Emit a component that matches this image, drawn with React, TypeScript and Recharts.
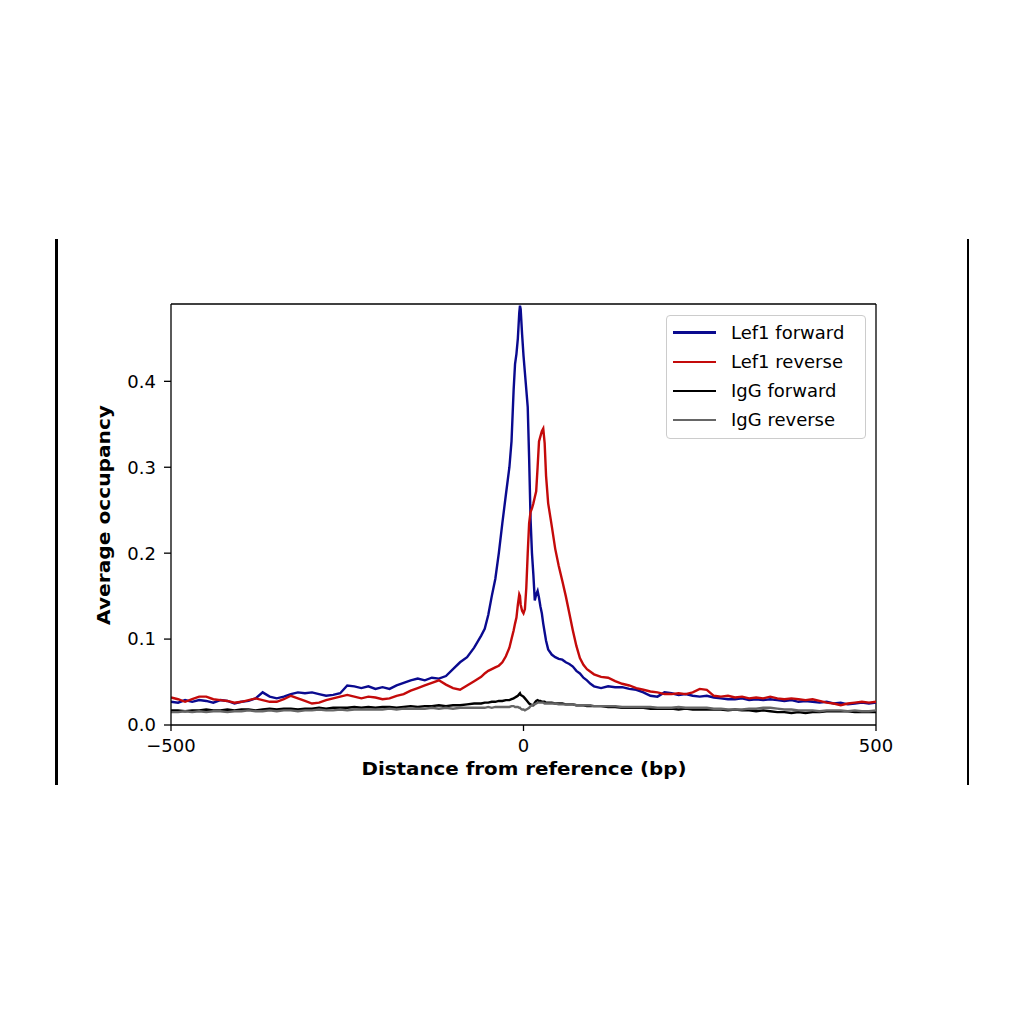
import React from 'react';
import { LineChart, Line, XAxis, YAxis, Legend, ReferenceLine } from 'recharts';

const positions = [
  -500, -490, -480, -470, -460, -450, -440, -430, -420, -410, -400, -390, -380, -370, -360,
  -350, -340, -330, -320, -310, -300, -290, -280, -270, -260, -250, -240, -230, -220, -210,
  -200, -190, -180, -170, -160, -150, -140, -130, -120, -110, -100, -90, -80, -70, -60,
  -55, -50, -45, -40, -35, -30, -25, -20, -17, -14, -12, -10, -8, -6, -5, -4, -2, 0,
  2, 4, 6, 8, 10, 12, 14, 16, 18, 20, 22, 24, 26, 28, 30, 32, 35, 40, 45, 50, 55, 60,
  65, 70, 75, 80, 85, 90, 95, 100,
  110, 120, 130, 140, 150, 160, 170, 180, 190, 200, 210, 220, 230, 240, 250, 260, 270, 280,
  290, 300, 310, 320, 330, 340, 350, 360, 370, 380, 390, 400, 410, 420, 430, 440, 450, 460,
  470, 480, 490, 500,
];

const lef1Forward = [
  0.027, 0.026, 0.029, 0.027, 0.029, 0.028, 0.026, 0.029, 0.028, 0.025, 0.027, 0.028, 0.031, 0.038, 0.033,
  0.031, 0.033, 0.036, 0.038, 0.037, 0.038, 0.036, 0.034, 0.035, 0.037, 0.046, 0.045, 0.043, 0.045, 0.042,
  0.044, 0.042, 0.046, 0.049, 0.052, 0.054, 0.052, 0.055, 0.054, 0.057, 0.065, 0.073, 0.079, 0.09, 0.104,
  0.112, 0.128, 0.15, 0.17, 0.2, 0.235, 0.268, 0.3, 0.33, 0.39, 0.42, 0.432, 0.45, 0.48, 0.488, 0.484, 0.455, 0.43,
  0.41, 0.39, 0.37, 0.31, 0.24, 0.2, 0.175, 0.145, 0.152, 0.156, 0.148, 0.138, 0.13, 0.118, 0.108, 0.098, 0.088, 0.082, 0.079, 0.077, 0.076, 0.073,
  0.071, 0.068, 0.063, 0.06, 0.055, 0.052, 0.048, 0.045,
  0.043, 0.045, 0.044, 0.044, 0.042, 0.041, 0.038, 0.034, 0.033, 0.038, 0.037, 0.035, 0.036, 0.034, 0.033, 0.034, 0.032, 0.031,
  0.03, 0.03, 0.031, 0.029, 0.03, 0.029, 0.03, 0.029, 0.028, 0.029, 0.027, 0.028, 0.027, 0.026, 0.027, 0.025, 0.026, 0.024,
  0.025, 0.026, 0.025, 0.026,
];

const lef1Reverse = [
  0.032, 0.03, 0.027, 0.03, 0.033, 0.033, 0.03, 0.029, 0.028, 0.026, 0.027, 0.029, 0.031, 0.029, 0.027,
  0.027, 0.03, 0.034, 0.031, 0.028, 0.025, 0.026, 0.029, 0.031, 0.033, 0.035, 0.033, 0.031, 0.033, 0.032,
  0.03, 0.031, 0.034, 0.036, 0.04, 0.043, 0.046, 0.049, 0.052, 0.047, 0.043, 0.041, 0.046, 0.051, 0.056,
  0.06, 0.063, 0.065, 0.067, 0.069, 0.073, 0.08, 0.09, 0.1, 0.11, 0.118, 0.125, 0.14, 0.152, 0.15, 0.14, 0.133, 0.13,
  0.135, 0.16, 0.2, 0.235, 0.248, 0.252, 0.258, 0.265, 0.272, 0.3, 0.33, 0.336, 0.342, 0.345, 0.328, 0.29, 0.258, 0.232, 0.205, 0.185, 0.168, 0.15,
  0.13, 0.11, 0.092, 0.078, 0.07, 0.065, 0.062, 0.059,
  0.056, 0.055, 0.051, 0.048, 0.046, 0.043, 0.041, 0.039, 0.038, 0.036, 0.036, 0.037, 0.036, 0.038, 0.042, 0.041, 0.034, 0.033,
  0.034, 0.032, 0.033, 0.031, 0.032, 0.031, 0.033, 0.031, 0.03, 0.031, 0.03, 0.029, 0.03, 0.028, 0.026, 0.025, 0.023, 0.025,
  0.026, 0.027, 0.026, 0.027,
];

const igGForward = [
  0.017, 0.017, 0.016, 0.017, 0.017, 0.018, 0.017, 0.017, 0.018, 0.017, 0.018, 0.018, 0.017, 0.018, 0.019,
  0.018, 0.019, 0.019, 0.018, 0.019, 0.019, 0.02, 0.019, 0.02, 0.02, 0.02, 0.021, 0.02, 0.021, 0.02,
  0.021, 0.021, 0.02, 0.021, 0.022, 0.021, 0.022, 0.022, 0.023, 0.022, 0.023, 0.023, 0.024, 0.025, 0.025,
  0.026, 0.026, 0.027, 0.027, 0.028, 0.028, 0.029, 0.029, 0.03, 0.031, 0.032, 0.033, 0.034, 0.036, 0.037, 0.035, 0.034, 0.033,
  0.031, 0.029, 0.027, 0.025, 0.024, 0.023, 0.023, 0.026, 0.028, 0.029, 0.028, 0.028, 0.027, 0.027, 0.027, 0.026, 0.026, 0.026, 0.025, 0.025, 0.025, 0.024,
  0.024, 0.024, 0.023, 0.023, 0.023, 0.022, 0.022, 0.022,
  0.022, 0.021, 0.021, 0.02, 0.02, 0.02, 0.02, 0.019, 0.019, 0.019, 0.019, 0.018, 0.019, 0.018, 0.018, 0.018, 0.018, 0.018,
  0.017, 0.018, 0.017, 0.017, 0.016, 0.017, 0.016, 0.015, 0.015, 0.014, 0.015, 0.014, 0.015, 0.015, 0.016, 0.016, 0.016, 0.016,
  0.015, 0.015, 0.015, 0.015,
];

const igGReverse = [
  0.015, 0.015, 0.016, 0.015, 0.016, 0.015, 0.016, 0.016, 0.015, 0.016, 0.016, 0.017, 0.016, 0.016, 0.017,
  0.016, 0.017, 0.017, 0.016, 0.017, 0.017, 0.018, 0.017, 0.017, 0.018, 0.017, 0.018, 0.018, 0.018, 0.018,
  0.018, 0.019, 0.018, 0.019, 0.019, 0.019, 0.019, 0.02, 0.019, 0.02, 0.019, 0.02, 0.02, 0.02, 0.02,
  0.02, 0.021, 0.02, 0.021, 0.021, 0.021, 0.021, 0.021, 0.022, 0.022, 0.021, 0.021, 0.021, 0.02, 0.02, 0.019, 0.018, 0.018,
  0.017, 0.018, 0.019, 0.02, 0.022, 0.023, 0.024, 0.024, 0.025, 0.026, 0.026, 0.026, 0.026, 0.026, 0.025, 0.025, 0.025, 0.025, 0.025, 0.024, 0.024, 0.024,
  0.024, 0.024, 0.023, 0.023, 0.023, 0.023, 0.023, 0.022,
  0.022, 0.022, 0.022, 0.021, 0.021, 0.021, 0.021, 0.021, 0.02, 0.02, 0.02, 0.021, 0.02, 0.02, 0.02, 0.02, 0.019, 0.019,
  0.018, 0.018, 0.018, 0.019, 0.019, 0.02, 0.02, 0.019, 0.018, 0.018, 0.017, 0.017, 0.017, 0.016, 0.017, 0.017, 0.017, 0.016,
  0.017, 0.016, 0.016, 0.017,
];

const xTicks = [-500, 0, 500];
const yTicks = [0, 0.1, 0.2, 0.3, 0.4];
const xDomain = [-500, 500];
const yDomain = [0, 0.49];

const seriesInfo = [
  { key: 'lef1Forward', name: 'Lef1 forward', color: '#0a0a8f' },
  { key: 'lef1Reverse', name: 'Lef1 reverse', color: '#c40a0a' },
  { key: 'igGForward', name: 'IgG forward', color: '#000000' },
  { key: 'igGReverse', name: 'IgG reverse', color: '#666666' },
];

const data = positions.map((x, i) => ({
  x,
  lef1Forward: lef1Forward[i],
  lef1Reverse: lef1Reverse[i],
  igGForward: igGForward[i],
  igGReverse: igGReverse[i],
}));

const FONT = '"DejaVu Sans", sans-serif';

const LegendBox = () => (
  <div
    style={{
      border: '1px solid #cccccc',
      borderRadius: 4,
      background: 'rgba(255,255,255,0.8)',
      width: 200,
      height: 124,
      boxSizing: 'border-box',
      paddingTop: 2,
      fontFamily: FONT,
      fontSize: 18,
      color: '#000',
      textAlign: 'left',
    }}
  >
    {seriesInfo.map((s) => (
      <div key={s.key} style={{ display: 'flex', alignItems: 'center', height: 29.2 }}>
        <div style={{ width: 43, height: 2.5, background: s.color, marginLeft: 6, marginRight: 15 }} />
        <span style={{ lineHeight: '20px' }}>{s.name}</span>
      </div>
    ))}
  </div>
);

const fmtX = (v: number) => String(v).replace('-', '\u2212');
const fmtY = (v: number) => v.toFixed(1);

export default function App() {
  return (
    <div style={{ position: 'absolute', left: 0, top: 0, width: 1024, height: 1024, background: '#fff' }}>
      <div style={{ position: 'absolute', left: 55, top: 239, width: 2.5, height: 546, background: '#000' }} />
      <div style={{ position: 'absolute', left: 966.5, top: 239, width: 2.5, height: 546, background: '#000' }} />
      <LineChart
        width={1024}
        height={1024}
        data={data}
        margin={{ top: 304, right: 148, bottom: 239, left: 0 }}
        style={{ fontFamily: FONT }}
      >
        <XAxis
          dataKey="x"
          type="number"
          domain={xDomain}
          ticks={xTicks}
          tickFormatter={fmtX}
          height={60}
          tickSize={6}
          tickMargin={8}
          stroke="#000"
          strokeWidth={1.3}
          tick={{ fill: '#000', fontSize: 18 }}
          tickLine={{ stroke: '#000' }}
          allowDataOverflow
          label={{
            content: () => (
              <text
                x={524}
                y={775}
                textAnchor="middle"
                fontSize={18}
                fontWeight="bold"
                fill="#000"
                fontFamily={FONT}
                textLength={325}
                lengthAdjust="spacingAndGlyphs"
              >
                Distance from reference (bp)
              </text>
            ),
          }}
        />
        <YAxis
          type="number"
          domain={yDomain}
          ticks={yTicks}
          tickFormatter={fmtY}
          width={171}
          tickSize={7}
          tickMargin={8}
          stroke="#000"
          strokeWidth={1.3}
          tick={{ fill: '#000', fontSize: 18 }}
          tickLine={{ stroke: '#000' }}
          allowDataOverflow
          label={{
            content: () => (
              <text
                x={110}
                y={515}
                textAnchor="middle"
                fontSize={18}
                fontWeight="bold"
                fill="#000"
                fontFamily={FONT}
                textLength={220}
                lengthAdjust="spacingAndGlyphs"
                transform="rotate(-90 110 515)"
              >
                Average occupancy
              </text>
            ),
          }}
        />
        <ReferenceLine y={yDomain[1]} stroke="#000" strokeWidth={1.3} ifOverflow="visible" />
        <ReferenceLine x={xDomain[1]} stroke="#000" strokeWidth={1.3} ifOverflow="visible" />
        <Legend
          layout="horizontal"
          verticalAlign="middle"
          align="center"
          content={() => <LegendBox />}
          wrapperStyle={{ position: 'absolute', left: 666, top: 315, width: 200, height: 124 }}
        />
        {seriesInfo.map((s) => (
          <Line
            key={s.key}
            dataKey={s.key}
            name={s.name}
            stroke={s.color}
            strokeWidth={2.4}
            dot={false}
            type="linear"
            isAnimationActive={false}
          />
        ))}
      </LineChart>
    </div>
  );
}
